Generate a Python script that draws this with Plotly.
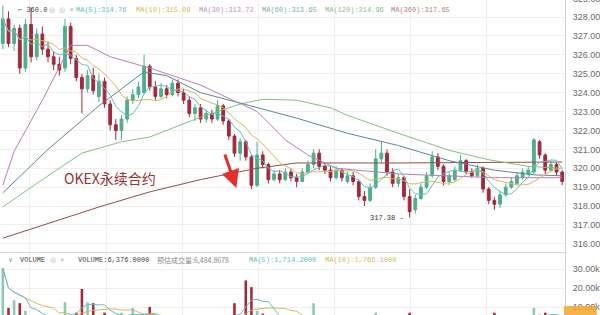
import plotly.graph_objects as go
import pandas as pd

# ---------------- data ----------------
opens = [326.6, 327.9, 326.6, 327.4, 325.3, 327.6, 325.9, 327.1, 326.3, 325.9,
         325.5, 325.3, 327.5, 325.8, 324.8, 324.2, 324.9, 323.8, 324.6, 323.4,
         322.3, 322.0, 322.6, 323.6, 323.9, 324.0, 325.4, 324.3, 323.8, 324.2,
         323.9, 324.5, 324.0, 323.6, 322.9, 323.2, 322.6, 322.9, 322.6, 323.3,
         322.5, 321.7, 320.8, 321.4, 320.6, 319.1, 320.7, 320.2, 319.4, 319.7,
         319.4, 319.8, 319.5, 319.3, 319.8, 320.2, 320.8, 320.1, 319.9, 319.5,
         319.9, 319.3, 319.6, 319.3, 318.5, 318.3, 319.0, 320.5, 320.8, 319.8,
         319.2, 319.5, 318.5, 317.8, 318.4, 319.0, 319.6, 320.6, 320.1, 319.3,
         319.4, 319.9, 320.4, 319.8, 319.6, 320.0, 318.9, 318.3, 318.1, 318.6,
         319.0, 319.2, 319.5, 319.7, 319.8, 321.4, 320.7, 319.9, 320.2, 319.8]
closes = [327.9, 326.6, 327.4, 325.3, 327.6, 325.9, 327.1, 326.3, 325.9, 325.5,
          325.2, 327.5, 325.8, 324.8, 324.2, 324.9, 324.1, 324.6, 323.4, 322.3,
          322.0, 322.6, 323.6, 323.9, 324.3, 325.4, 324.3, 323.8, 324.2, 323.9,
          324.5, 324.0, 323.6, 322.9, 323.2, 322.6, 322.9, 322.6, 323.3, 322.5,
          321.7, 320.8, 321.4, 320.6, 319.1, 320.7, 320.2, 319.4, 319.7, 319.4,
          319.8, 319.5, 319.3, 319.8, 320.2, 320.8, 320.1, 319.9, 319.5, 319.9,
          319.5, 319.6, 319.3, 318.5, 318.3, 319.0, 320.5, 320.8, 319.8, 319.2,
          319.5, 318.5, 317.7, 318.4, 319.0, 319.6, 320.6, 320.1, 319.3, 319.6,
          319.9, 320.4, 319.8, 319.6, 320.0, 318.9, 318.3, 318.1, 318.6, 319.0,
          319.3, 319.6, 319.8, 319.9, 321.5, 320.7, 319.9, 320.2, 319.8, 319.3]
highs = [328.6, 328.3, 327.6, 327.6, 327.9, 328.5, 327.4, 327.5, 326.7, 326.2,
         325.9, 327.9, 327.7, 326.0, 325.0, 325.2, 325.3, 325.0, 324.8, 323.6,
         322.6, 322.8, 323.8, 324.2, 324.6, 326.0, 325.5, 324.6, 324.5, 324.4,
         324.7, 324.7, 324.2, 323.8, 323.4, 323.4, 323.1, 323.1, 323.6, 323.4,
         322.6, 321.8, 321.6, 321.5, 320.7, 321.4, 320.9, 320.3, 319.9, 319.9,
         320.0, 320.0, 319.7, 320.0, 320.4, 321.0, 321.0, 320.3, 320.1, 320.1,
         320.0, 319.8, 319.8, 319.4, 318.8, 319.2, 321.0, 321.4, 321.0, 320.0,
         319.7, 319.6, 318.9, 318.6, 319.2, 319.8, 320.9, 320.8, 320.2, 319.8,
         320.1, 320.7, 320.5, 320.0, 320.2, 320.1, 319.0, 318.5, 318.8, 319.2,
         319.5, 319.8, 320.0, 320.1, 321.6, 321.5, 320.8, 320.4, 320.3, 319.9]
lows = [326.3, 326.4, 326.2, 325.0, 325.1, 325.6, 325.7, 326.0, 325.6, 325.2,
        324.9, 325.1, 325.5, 324.6, 322.9, 324.0, 323.9, 323.5, 323.2, 322.0,
        321.5, 321.5, 322.4, 323.4, 323.7, 323.9, 324.1, 323.6, 323.7, 323.7,
        323.8, 323.8, 323.4, 322.7, 322.5, 322.4, 322.4, 322.4, 322.5, 322.3,
        321.5, 320.6, 320.4, 320.4, 318.9, 319.0, 320.0, 319.2, 319.3, 319.2,
        319.3, 319.3, 319.0, 319.3, 319.7, 320.0, 319.9, 319.7, 319.3, 319.4,
        319.3, 319.2, 319.1, 318.3, 318.0, 318.2, 318.9, 320.3, 319.6, 319.0,
        319.0, 318.3, 317.38, 317.6, 318.3, 318.9, 319.5, 319.9, 319.1, 319.1,
        319.3, 319.8, 319.7, 319.5, 319.5, 318.7, 318.1, 317.8, 317.9, 318.5,
        318.9, 319.1, 319.4, 319.6, 319.7, 320.5, 319.7, 319.8, 319.6, 319.1]
volumes = [30500, 9500, 13500, 12000, 8000, 5000, 4500, 3500, 4000, 3000,
           4500, 12500, 5000, 7000, 19500, 12500, 12000, 4500, 7000, 5500,
           4000, 7000, 4500, 9500, 5000, 4500, 10000, 3500, 3000, 2500,
           3000, 2500, 3500, 4000, 3000, 2500, 3000, 2500, 4000, 3500,
           5500, 12000, 6000, 24000, 20500, 8000, 6500, 5000, 4000, 3000,
           2500, 2000, 3000, 2500, 3500, 12000, 4000, 3000, 2500, 3000,
           2500, 3500, 4500, 5500, 4000, 3500, 7000, 5000, 4000, 3000,
           2500, 4000, 7000, 4500, 3500, 3000, 5000, 4000, 3000, 2500,
           2500, 3000, 2500, 2000, 2500, 4000, 5000, 7000, 4500, 3500,
           3000, 2500, 3000, 3500, 9500, 6000, 7000, 4000, 3500, 4500]

# long moving averages (candle index -> price)
ma30_idx = [0, 2, 7, 12, 15, 19, 26, 35, 45, 50, 54, 59, 70, 87, 99]
ma30_val = [319.1, 320.9, 323.6, 326.5, 326.5, 325.9, 325.3, 324.4, 323.0, 321.5, 320.7, 320.0, 319.7, 319.5, 319.5]
ma60_idx = [0, 8, 17, 25, 29, 35, 42, 52, 61, 70, 79, 87, 94, 99]
ma60_val = [318.7, 321.0, 323.3, 325.1, 324.9, 324.0, 323.45, 322.65, 321.85, 321.2, 320.4, 319.9, 319.65, 319.6]
ma120_idx = [0, 7, 14, 21, 26, 35, 42, 46, 52, 58, 61, 70, 79, 86, 93, 99]
ma120_val = [317.95, 319.4, 320.8, 321.4, 321.65, 322.7, 323.4, 323.65, 323.6, 323.2, 322.8, 321.85, 320.95, 320.45, 320.1, 320.0]
ma360_idx = [0, 17, 26, 35, 45, 52, 70, 99]
ma360_val = [316.3, 317.95, 318.75, 319.4, 320.0, 320.28, 320.28, 320.33]

price_ticks = [316, 317, 318, 319, 320, 321, 322, 323, 324, 325, 326, 327, 328]
vol_ticks = [10000, 20000, 30000]
vol_tick_text = ["10.00k", "20.00k", "30.00k"]

# ---------------- styling ----------------
UP = "#4fae8c"
DOWN = "#a3283c"
W, H = 600, 315
PLOT_W = 569

def px(x):
    return x / PLOT_W

def py(y):
    return 1 - y / H

idx = list(range(len(closes)))
close_s = pd.Series(closes)
ma5 = close_s.rolling(5, min_periods=1).mean()
ma10 = close_s.rolling(10, min_periods=1).mean()
vol_s = pd.Series(volumes)
vma5 = vol_s.rolling(5, min_periods=1).mean()
vma10 = vol_s.rolling(10, min_periods=1).mean()
vol_colors = ["#8cc9b1" if c >= o else DOWN for o, c in zip(opens, closes)]

fig = go.Figure()
fig.add_trace(go.Candlestick(
    x=idx, open=opens, high=highs, low=lows, close=closes,
    increasing=dict(line=dict(color=UP, width=1), fillcolor=UP),
    decreasing=dict(line=dict(color=DOWN, width=1), fillcolor=DOWN),
    whiskerwidth=0, xaxis="x", yaxis="y", showlegend=False))

def line(xs, ys, color, xa="x", ya="y"):
    fig.add_trace(go.Scatter(x=xs, y=ys, mode="lines", line=dict(color=color, width=1),
                             xaxis=xa, yaxis=ya, showlegend=False, hoverinfo="skip"))

C_MA5 = "#62bfc0"
C_MA10 = "#dcb659"
C_MA30 = "#b67fb8"
C_MA60 = "#5e8799"
C_MA120 = "#7fc27f"
C_MA360 = "#9a4a4a"
line(ma360_idx, ma360_val, C_MA360)
line(ma120_idx, ma120_val, C_MA120)
line(ma60_idx, ma60_val, C_MA60)
line(ma30_idx, ma30_val, C_MA30)
line(idx, ma10, C_MA10)
line(idx, ma5, C_MA5)

fig.add_trace(go.Bar(x=idx, y=volumes, marker_color=vol_colors, marker_line_width=0,
                     width=0.45, xaxis="x2", yaxis="y2", showlegend=False))
line(idx, vma10, C_MA10, "x2", "y2")
line(idx, vma5, C_MA5, "x2", "y2")

grid_x = [4.8 + 13.48 * k for k in range(7)]
xax = dict(range=[-0.5, 99.5], showticklabels=False, tickvals=grid_x, ticks="",
           showgrid=True, gridcolor="#efefef", gridwidth=1, zeroline=False,
           rangeslider=dict(visible=False), fixedrange=True)
fig.update_layout(
    width=W, height=H, margin=dict(l=0, r=W - PLOT_W, t=0, b=0),
    paper_bgcolor="white", plot_bgcolor="white",
    xaxis=dict(**xax, domain=[0, 1], anchor="y"),
    xaxis2=dict(**xax, domain=[0, 1], anchor="y2", matches="x"),
    yaxis=dict(domain=[py(252), 1], range=[315.57, 328.9], side="right",
               tickvals=price_ticks, ticktext=["%.2f" % v for v in price_ticks],
               showgrid=True, gridcolor="#efefef", zeroline=False, ticks="",
               showline=True, linecolor="#d0d0d0", linewidth=1, ticklabelstandoff=5,
               tickfont=dict(family="Liberation Sans", size=9, color="#6a6a6a")),
    yaxis2=dict(domain=[0, py(252)], range=[5790, 38950], side="right",
                tickvals=vol_ticks, ticktext=vol_tick_text,
                showgrid=True, gridcolor="#efefef", zeroline=False, ticks="",
                showline=True, linecolor="#d0d0d0", linewidth=1, ticklabelstandoff=5,
                tickfont=dict(family="Liberation Sans", size=9, color="#6a6a6a")),
    bargap=0.5,
)

shapes = [
    dict(type="line", xref="paper", yref="paper", x0=0, x1=1, y0=py(252.5), y1=py(252.5),
         line=dict(color="#d8d8d8", width=1)),
    dict(type="rect", xref="paper", yref="paper", x0=px(568), x1=px(601), y0=py(315), y1=py(306),
         fillcolor="rgba(244,166,40,0.85)", line=dict(width=0)),
]
fig.update_layout(shapes=shapes)

MONO = "Liberation Mono"
ann = []

def txt(x, y, s, color, size=7, family=MONO, anchor="left"):
    ann.append(dict(xref="paper", yref="paper", x=px(x), y=py(y), text=s, showarrow=False,
                    xanchor=anchor, yanchor="middle", font=dict(family=family, size=size, color=color)))

# top legend row
txt(575, -1, "329.00", "#6a6a6a", 9, "Liberation Sans")
txt(16, 10, "⌐ 360.0", "#444444")
txt(47, 10, "◎ ◎ ×", "#aaaaaa")
txt(75, 10, "MA(5):314.76", C_MA5)
txt(135, 10, "MA(10):315.09", C_MA10)
txt(198, 10, "MA(30):313.72", "#c490c4")
txt(262, 10, "MA(60):313.65", "#6fb2b4")
txt(325, 10, "MA(120):314.96", C_MA120)
txt(392, 10, "MA(360):317.65", "#c07c7c")

# volume header row
txt(6, 260, "∨", "#888888")
txt(18, 260, "VOLUME", "#444444")
txt(48, 260, "◎ ×", "#aaaaaa")
txt(77, 260, "VOLUME:6,376.0000", "#444444")
txt(156, 260, "预估成交量:6,484.8678", "#8a8a8a", 7, "Noto Sans CJK SC, Liberation Mono")
txt(249, 260, "MA(5):1,714.2000", C_MA5)
txt(325, 260, "MA(10):1,766.1000", C_MA10)

# low marker
txt(409, 218, "317.38 -", "#333333", 7, MONO, "right")

# OKEX text
txt(62, 178, "OKEX永续合约", "#9b3030", 14, "Noto Sans CJK SC")

# red arrow
ann.append(dict(xref="paper", yref="paper", x=px(238), y=py(188), ax=-12, ay=-35,
                axref="pixel", ayref="pixel", showarrow=True, arrowhead=2, arrowsize=1.2,
                arrowwidth=3, arrowcolor="#e2312c", text=""))
fig.update_layout(annotations=ann)

fig.write_html("out.html")
